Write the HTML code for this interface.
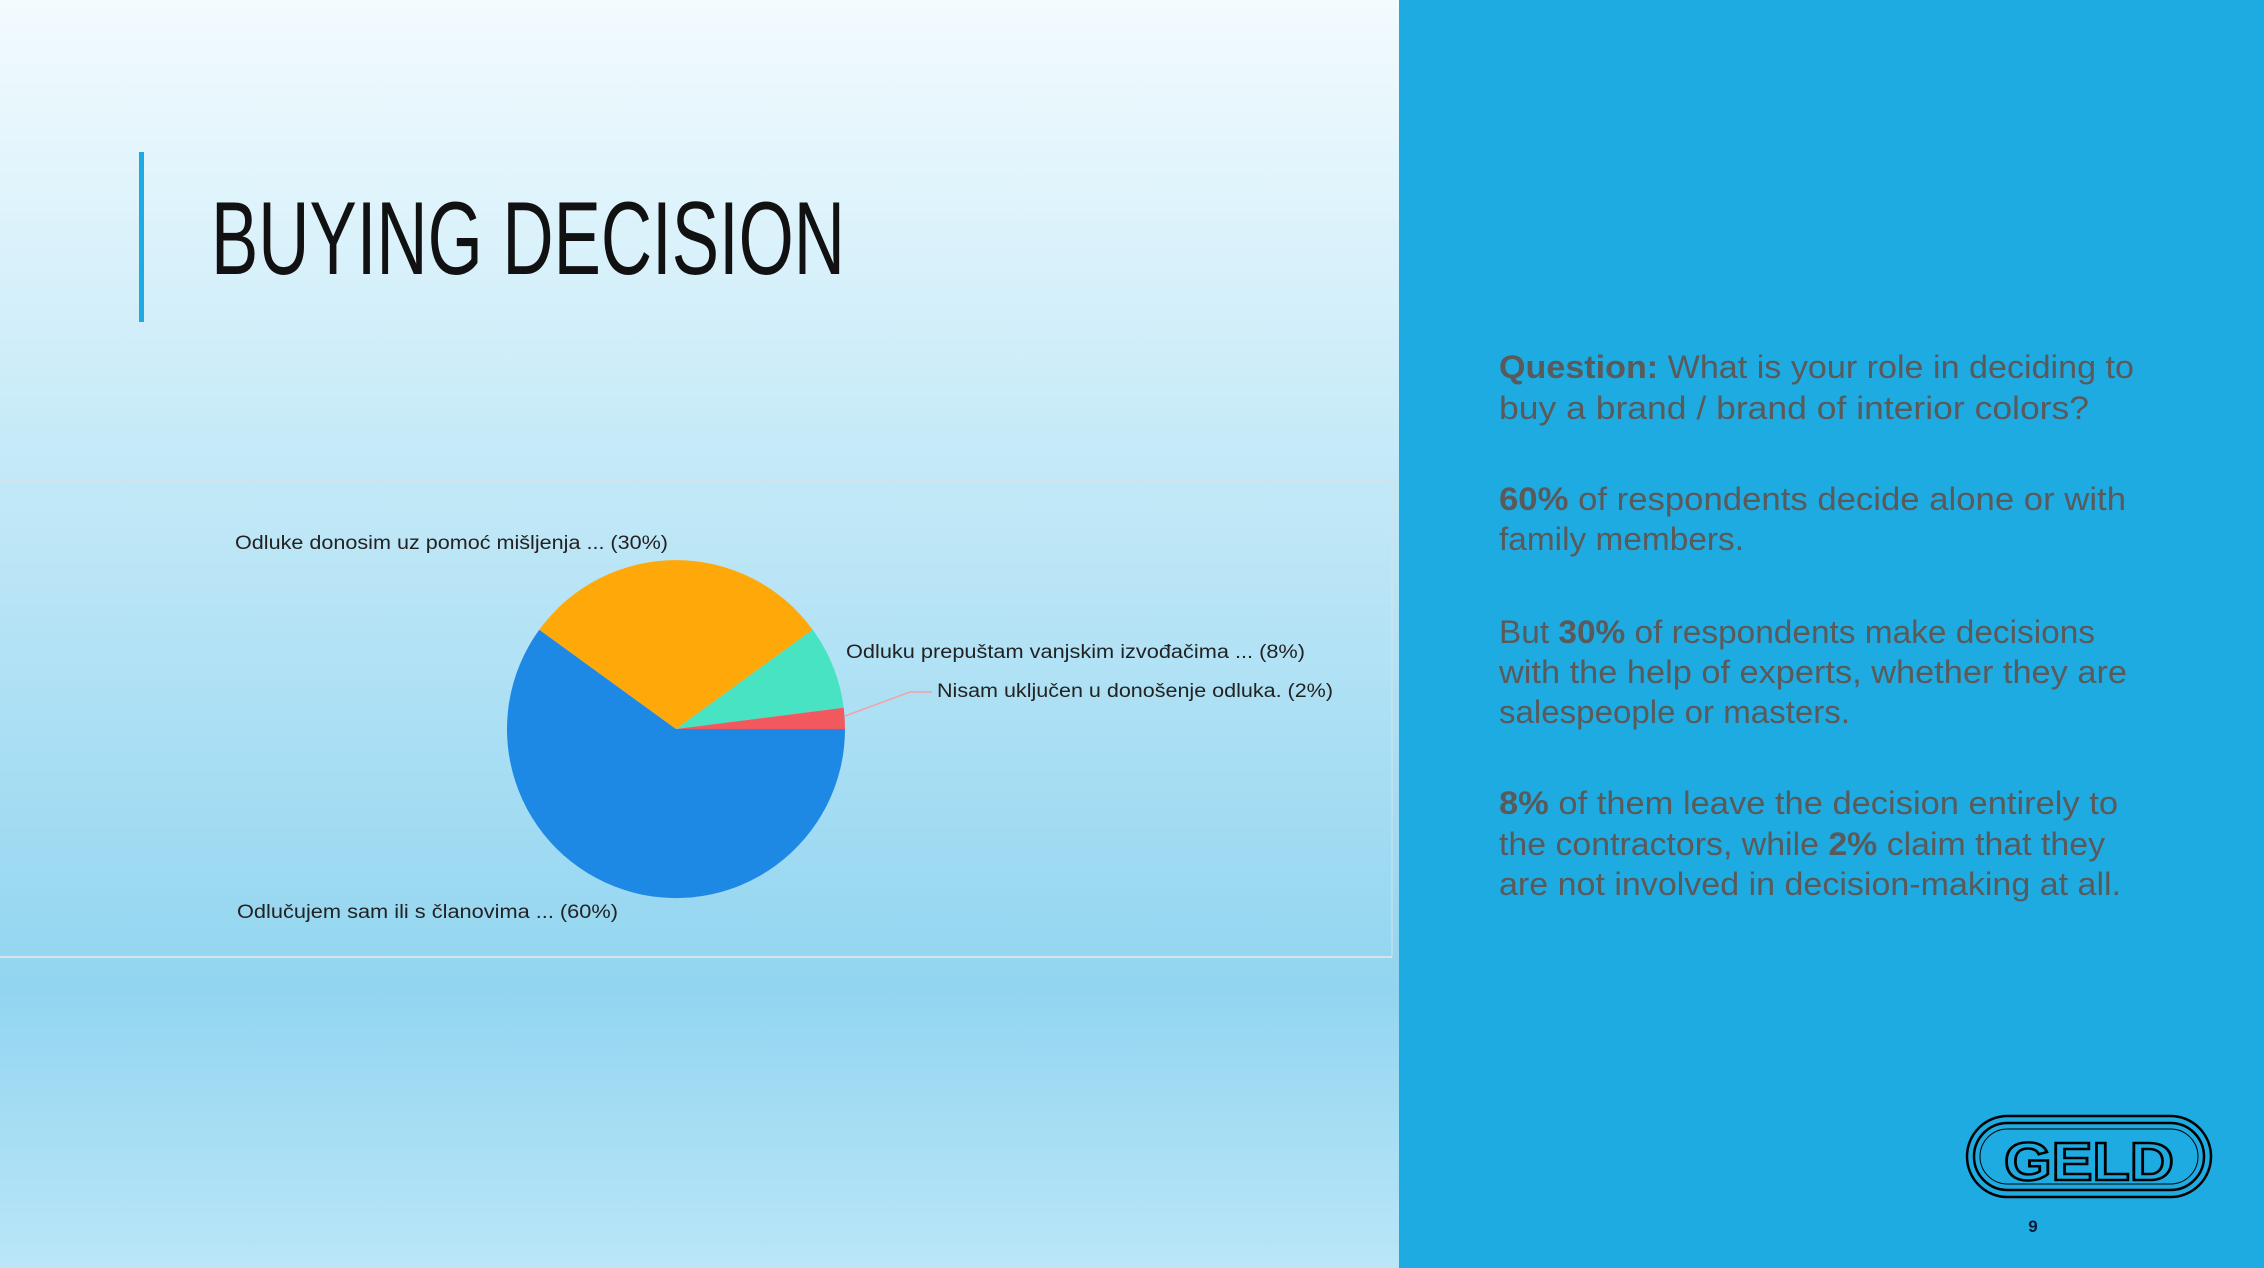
<!DOCTYPE html>
<html><head><meta charset="utf-8"><style>
html,body{margin:0;padding:0;width:2264px;height:1268px;overflow:hidden}
svg{display:block}
</style></head><body>
<svg width="2264" height="1268" viewBox="0 0 2264 1268" xmlns="http://www.w3.org/2000/svg">
<defs>
<linearGradient id="bg" x1="0" y1="0" x2="0" y2="1">
<stop offset="0" stop-color="#f3fbfe"/>
<stop offset="0.35" stop-color="#c6eaf8"/>
<stop offset="0.78" stop-color="#92d5f0"/>
<stop offset="1" stop-color="#bae6f8"/>
</linearGradient>
</defs>
<rect x="0" y="0" width="1399" height="1268" fill="url(#bg)"/>
<rect x="1399" y="0" width="865" height="1268" fill="#1eabe2"/>
<rect x="139" y="152" width="5" height="170" fill="#1eaae2"/>
<text x="211" y="274" font-family="Liberation Sans, sans-serif" font-size="104" fill="#111" textLength="634" lengthAdjust="spacingAndGlyphs">BUYING DECISION</text>
<line x1="0" y1="480" x2="1392" y2="480" stroke="#d6e3ea" stroke-width="2"/>
<line x1="0" y1="957" x2="1392" y2="957" stroke="#d6e3ea" stroke-width="2"/>
<line x1="1392" y1="480" x2="1392" y2="957" stroke="#d6e3ea" stroke-width="1"/>
<g>
<path d="M676 729 L539.3 629.7 A169 169 0 1 0 845 729 Z" fill="#1e88e5"/>
<path d="M676 729 L812.7 629.7 A169 169 0 0 0 539.3 629.7 Z" fill="#ffa80a"/>
<path d="M676 729 L843.7 707.8 A169 169 0 0 0 812.7 629.7 Z" fill="#48e3c3"/>
<path d="M676 729 L845 729 A169 169 0 0 0 843.7 707.8 Z" fill="#f2595e"/>
</g>
<polyline points="845,716 910,692 932,692" fill="none" stroke="#f5a0a3" stroke-width="1.5"/>
<g font-family="Liberation Sans, sans-serif" font-size="19" fill="#222">
<text x="235" y="549" textLength="433" lengthAdjust="spacingAndGlyphs">Odluke donosim uz pomoć mišljenja ... (30%)</text>
<text x="846" y="658" textLength="459" lengthAdjust="spacingAndGlyphs">Odluku prepuštam vanjskim izvođačima ... (8%)</text>
<text x="937" y="697" textLength="396" lengthAdjust="spacingAndGlyphs">Nisam uključen u donošenje odluka. (2%)</text>
<text x="237" y="918" textLength="381" lengthAdjust="spacingAndGlyphs">Odlučujem sam ili s članovima ... (60%)</text>
</g>
<g font-family="Liberation Sans, sans-serif" font-size="32" fill="#5a5a5a">
<text x="1499" y="378" textLength="635" lengthAdjust="spacingAndGlyphs"><tspan font-weight="bold">Question:</tspan> What is your role in deciding to</text>
<text x="1499" y="419" textLength="590" lengthAdjust="spacingAndGlyphs">buy a brand / brand of interior colors?</text>
<text x="1499" y="510" textLength="627" lengthAdjust="spacingAndGlyphs"><tspan font-weight="bold">60%</tspan> of respondents decide alone or with</text>
<text x="1499" y="550" textLength="245" lengthAdjust="spacingAndGlyphs">family members.</text>
<text x="1499" y="643" textLength="596" lengthAdjust="spacingAndGlyphs">But <tspan font-weight="bold">30%</tspan> of respondents make decisions</text>
<text x="1499" y="683" textLength="628" lengthAdjust="spacingAndGlyphs">with the help of experts, whether they are</text>
<text x="1499" y="723" textLength="351" lengthAdjust="spacingAndGlyphs">salespeople or masters.</text>
<text x="1499" y="814" textLength="619" lengthAdjust="spacingAndGlyphs"><tspan font-weight="bold">8%</tspan> of them leave the decision entirely to</text>
<text x="1499" y="855" textLength="606" lengthAdjust="spacingAndGlyphs">the contractors, while <tspan font-weight="bold">2%</tspan> claim that they</text>
<text x="1499" y="895" textLength="622" lengthAdjust="spacingAndGlyphs">are not involved in decision-making at all.</text>
</g>
<g fill="none" stroke="#000">
<rect x="1967" y="1116" width="244" height="81" rx="40.5" stroke-width="2.5"/>
<rect x="1974" y="1123" width="230" height="67" rx="33.5" stroke-width="2.5"/>
<rect x="1980" y="1129" width="218" height="55" rx="27.5" stroke-width="1"/>
</g>
<text x="2089" y="1180" text-anchor="middle" font-family="Liberation Sans, sans-serif" font-weight="bold" font-size="54" fill="none" stroke="#000" stroke-width="2.5" textLength="170" lengthAdjust="spacingAndGlyphs">GELD</text>
<text x="2033" y="1232" text-anchor="middle" font-family="Liberation Sans, sans-serif" font-weight="bold" font-size="17" fill="#0a1a33">9</text>
</svg>
</body></html>
